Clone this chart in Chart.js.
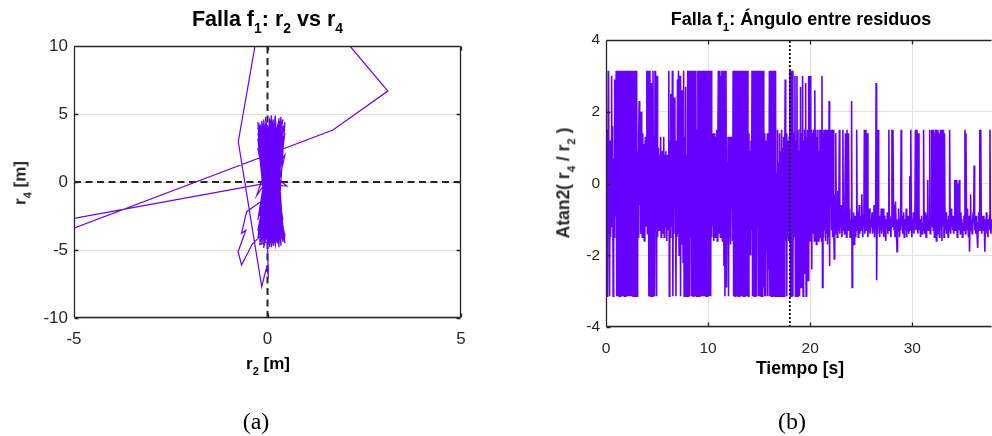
<!DOCTYPE html>
<html>
<head>
<meta charset="utf-8">
<script src="https://cdn.jsdelivr.net/npm/chart.js@4/dist/chart.umd.min.js"></script>
<style>
html, body { margin: 0; padding: 0; background: #fff; overflow: hidden; }
#wrap { position: relative; width: 992px; height: 436px; }
canvas { position: absolute; top: 0; }
.lbl { position: absolute; font-family: "Liberation Sans", Arial, sans-serif; font-weight: bold; white-space: nowrap; line-height: 1; color: #262626; }
.lbl sub { font-size: 0.65em; vertical-align: -0.5em; line-height: 0; }
.tit { color: #000; transform: translateX(-50%); }
.rot { transform: translate(-50%, -50%) rotate(-90deg); }
.cap { position: absolute; font-family: "Liberation Serif", "Times New Roman", serif; font-size: 24px; line-height: 1; color: #000; transform: translateX(-50%); }
</style>
</head>
<body>
<div id="wrap">
  <canvas id="cA" width="496" height="436" style="left:0"></canvas>
  <canvas id="cB" width="496" height="436" style="left:496px"></canvas>

  <div class="lbl tit" style="left:267.5px; top:9px; font-size:21.5px">Falla f<sub>1</sub>: r<sub>2</sub> vs r<sub>4</sub></div>
  <div class="lbl tit" style="left:268px; top:355px; font-size:17px">r<sub>2</sub> [m]</div>
  <div class="lbl rot" style="left:20px; top:183px; font-size:17px">r<sub>4</sub> [m]</div>

  <div class="lbl tit" style="left:801px; top:10px; font-size:18px">Falla f<sub>1</sub>: Ángulo entre residuos</div>
  <div class="lbl tit" style="left:800px; top:360px; font-size:17.5px">Tiempo [s]</div>
  <div class="lbl rot" style="left:564px; top:183px; font-size:17.5px">Atan2( r<sub>4</sub> / r<sub>2</sub> )</div>

  <div class="cap" style="left:256px; top:409px">(a)</div>
  <div class="cap" style="left:792px; top:409px">(b)</div>
</div>

<script>
// ---- (a) trayectoria r2 vs r4, puntos [r2, r4] ----
const nubeA = [
  [0.1,3.8],[-0.1,-3.2],[0.3,4.2],[0.0,-4.1],[0.2,2.9],[-0.2,-2.5],[0.35,4.6],[0.05,-4.6],[-0.1,3.5],[0.25,-3.8],
  [0.1,4.8],[-0.05,-2.9],[0.3,3.1],[-0.15,-4.3],[0.2,4.4],[0.15,-4.7],[-0.2,2.2],[0.3,-3.4],[0.0,4.0],[0.2,-4.4],
  [-0.1,1.5],[0.35,-2.1],[0.05,4.5],[-0.2,-3.9],[0.25,3.6],[0.1,-4.8],[-0.05,4.2],[0.3,-3.0],[0.15,2.6],[-0.1,-4.5],
  [0.4,4.1],[0.0,-3.6],[-0.25,3.2],[0.2,-4.2],[0.1,4.7],[-0.15,-1.8],[0.35,3.9],[0.05,-4.0],[-0.1,4.4],[0.3,-4.6],
  [0.2,1.9],[-0.2,-3.3],[0.15,4.3],[0.25,-2.6],[-0.05,3.0],[0.1,-4.4],[0.35,4.8],[-0.15,-4.1],[0.0,2.4],[0.3,-3.7],
  [0.2,4.0],[-0.25,-2.8],[0.1,3.4],[0.25,-4.5],[-0.1,4.6],[0.05,-3.1],[0.4,2.8],[-0.05,-4.3],[0.15,3.7],[0.3,-4.0],
  [-0.2,4.1],[0.1,-2.2],[0.2,4.5],[-0.1,-4.7],[0.0,0.6]
];
const excursion = [
  [0.05,-0.2],[-0.19,-0.17],[-5.6,-2.99],[-5.6,-4.03],[1.69,3.82],[3.11,6.69],[2.13,10],[1.54,12],
  [-0.2,12],[-0.755,2.96],[-0.15,-7.7],[-0.03,-6.35],[0.02,-6.84],[0.0,-4.5]
];
const nubeB = [
  [0.35,3.3],[0.0,-3.5],[0.15,1.2],[-0.15,-4.0],[0.3,4.3],[0.05,-4.6],[-0.1,2.7],[0.25,-3.3],[0.1,4.9],[-0.2,-3.7],
  [0.3,3.5],[0.15,-4.2],[0.0,0.8],[0.5,-0.3],[0.05,-0.2],[-0.1,-4.4],[0.2,3.8],[0.35,-3.9],[-0.05,4.3],[0.1,-2.7],
  [0.25,4.0],[-0.15,-4.6],[0.2,2.1],[0.3,-4.3],[-0.1,3.9],[0.05,-3.8],[0.15,4.6],[-0.2,-2.4],[0.4,3.0],[0.1,-4.5],
  [-0.05,3.6],[0.25,-3.6],[0.0,4.2],[0.3,-4.8],[-0.15,2.9],[0.1,-1.0]
];
const zigzag = [
  [-0.25,-1.6],[-0.54,-2.18],[-0.67,-3.77],[-0.56,-3.55],[-0.76,-5.13],[-0.67,-6.1],[-0.4,-4.6],[-0.2,-4.0]
];
const nubeC = [
  [0.2,-3.0],[0.1,4.4],[-0.1,-4.2],[0.3,1.6],[0.15,-4.6],[-0.2,3.7],[0.05,-3.4],[0.35,4.2],[-0.05,-4.0],[0.2,3.2],
  [0.1,-1.5],[-0.1,4.0],[0.3,-4.1],[0.0,2.5],[0.2,-4.4],[-0.15,3.3],[0.25,-2.9],[0.1,4.5],[-0.2,-4.3],[0.15,3.9],
  [0.3,-3.5],[0.0,-0.6],[-0.1,4.1],[0.2,-4.7],[0.35,2.6],[0.05,-3.9],[-0.05,4.7],[0.25,-4.2],[0.1,3.0],[-0.15,-3.0],
  [0.2,4.3],[0.0,-4.5],[0.1,0.2]
];
const nubeD = [
  [-0.25,4.0],[0.45,-3.9],[-0.2,-4.6],[0.4,4.6],[-0.28,-1.0],[0.45,2.0],[-0.1,-4.85],[0.2,4.9],[0.4,-4.4],[-0.22,3.0],
  [0.1,-3.9],[0.45,3.6],[-0.25,-3.6],[0.3,4.7],[0.0,-4.7],[-0.15,4.5],[0.4,-2.8],[0.05,3.2],[-0.25,-4.2],[0.35,4.0],
  [0.15,-4.1],[-0.2,4.3],[0.45,-4.1],[0.0,3.7],[-0.1,-3.4],[0.3,4.5],[0.2,-4.6],[-0.25,2.5],[0.4,-3.2],[0.05,4.6],
  [-0.15,-4.5],[0.25,3.4],[0.35,-4.7],[-0.05,4.0],[0.15,-3.3],[-0.2,3.8],[0.45,-4.5],[0.1,4.2],[-0.1,-4.0],[0.3,2.2],
  [0.0,-4.3],[-0.25,4.4],[0.4,-3.6],[0.2,4.6],[-0.15,-3.8],[0.35,3.7],[0.05,-4.8],[-0.1,3.3],[0.25,-4.0],[0.45,4.4],
  [-0.2,-4.4],[0.1,3.9],[0.3,-4.5],[-0.05,4.8],[0.2,-3.7],[-0.25,3.6],[0.4,-4.2],[0.15,4.1],[-0.1,-4.6],[0.3,3.8],
  [0.0,-4.0],[0.35,4.3],[-0.2,-3.1],[0.1,4.7],[0.25,-4.4],[-0.15,4.2],[0.05,-4.2],[0.4,3.4],[-0.05,-3.7],[0.2,4.2]
];
const xTicksA = [-5, 0, 5];
const yTicksA = [-10, -5, 0, 5, 10];

// ---- (b) Atan2(r4/r2) en el tiempo, una muestra cada dt segundos ----
const dt = 0.05;
const atanAntes = [   // 0 - 18 s
  0.6,3.14,-3.14,1.5,-1.4,3.14,-0.8,-3.14,1.2,-1.5,0.4,3.0,-1.2,1.6,-3.14,0.7,-1.5,2.9,-0.9,1.1,
  3.14,-3.14,3.14,-3.14,0.8,3.14,-3.14,3.14,-3.14,-1.2,3.14,-3.14,3.14,-3.14,1.3,3.14,-3.14,3.14,-3.14,0.5,
  3.14,-3.14,3.14,-3.14,3.14,-3.14,-0.5,3.14,-3.14,3.14,-3.14,1.4,3.14,-3.14,3.14,-3.14,3.14,-2.9,3.14,-3.14,
  3.14,-3.14,0.9,-1.5,1.3,2.3,-0.6,1.2,-1.4,2.0,0.3,-1.5,1.4,-0.9,1.1,-1.6,0.5,1.3,-1.2,0.8,
  3.14,-1.4,1.2,3.14,-3.14,0.9,3.14,-3.14,-1.3,2.8,1.1,-3.14,3.14,-1.5,1.3,-3.14,3.14,-0.8,0.4,-3.14,
  3.0,-1.5,1.0,0.9,-1.3,0.8,-0.6,1.3,-1.5,0.9,0.2,-1.4,0.9,1.3,-1.5,0.8,-1.2,0.9,-0.4,-1.6,
  0.8,-1.3,0.5,3.14,-3.14,1.2,-1.5,2.5,0.6,-1.2,3.14,-3.14,1.0,-1.4,2.4,-0.6,1.2,-3.14,0.9,-1.5,
  2.9,-1.4,3.14,-2.0,1.3,3.0,-3.14,0.9,-1.7,2.6,1.1,-2.2,3.14,-3.14,1.3,-1.0,2.7,-3.14,0.8,-1.5,
  3.14,-3.14,1.2,3.14,-3.14,3.0,-1.5,3.14,-3.14,1.3,3.14,-3.14,0.7,3.14,-3.14,-1.2,3.14,-3.14,1.5,-1.4,
  3.14,-3.14,3.14,-3.14,1.2,3.14,-3.14,3.14,-3.14,-0.9,3.14,-3.14,3.14,-3.14,1.4,3.14,-3.14,3.14,-3.14,0.6,
  3.14,-3.14,3.14,-3.14,1.1,-3.14,3.14,-1.5,1.4,-1.2,0.6,-1.6,1.4,0.2,-1.5,1.3,-1.1,1.5,-1.6,0.9,
  3.14,-1.4,1.3,3.14,-1.5,3.0,0.8,3.14,-1.6,1.2,3.14,-2.3,3.14,-3.14,1.0,3.14,-2.9,0.6,-1.5,1.3,
  -3.14,1.3,-1.5,0.9,-1.7,1.3,-0.7,1.1,-1.6,3.14,-3.14,1.4,3.14,-3.14,1.2,3.14,-3.14,-0.5,3.14,-3.14,
  3.14,-3.14,1.4,3.14,-3.14,3.14,-3.14,0.9,3.14,-3.14,3.14,-3.14,-1.2,3.14,-3.14,1.4,-3.14,3.14,-1.6,-3.14,
  1.4,-1.5,0.9,-2.0,1.2,-1.3,3.14,-3.14,1.3,3.14,-3.14,3.14,-3.14,0.7,3.14,-3.14,3.14,-1.2,1.4,-3.14,
  3.14,-3.14,1.5,3.14,-3.14,3.14,-3.14,0.5,3.14,-2.9,1.4,-3.14,1.2,-3.14,0.8,-1.9,1.4,-3.14,1.1,-2.4,
  3.14,-3.14,0.1,3.14,-3.14,3.14,-3.14,-0.2,3.14,-3.14,1.2,-3.14,3.14,-3.14,0.3,-2.6,1.5,-3.14,0.6,-2.2,
  1.4,-3.14,0.9,-1.6,1.5,-3.14,1.0,-1.5,1.3,-3.14,0.6,2.9,-1.6,1.4,-3.14,1.2,-1.5,0.8,-1.6,1.3
];
const atanDespues = [ // 18 - 38 s
  3.14,-3.14,3.14,-3.14,1.5,3.14,-3.14,0.8,-1.5,1.4,3.0,-3.14,1.2,-1.6,3.0,-3.14,1.5,-1.4,0.9,-3.14,
  1.5,2.7,-2.9,1.4,-1.6,3.0,-3.14,1.2,-2.5,1.5,-1.5,2.8,-3.14,1.3,-1.4,1.5,-2.7,3.0,-1.6,1.4,
  3.0,-1.6,1.5,-2.4,1.4,-1.4,0.5,1.5,-1.6,2.6,-1.5,1.5,-1.7,1.3,-1.2,1.5,-1.6,0.9,-1.5,1.5,
  -1.4,1.5,-1.6,3.0,-2.9,1.4,-1.5,1.5,-1.3,0.7,-1.6,1.5,-1.4,1.2,-1.7,1.5,-1.5,2.3,-2.3,1.4,
  -0.6,1.5,-1.3,-0.4,-1.5,1.5,-0.9,-2.1,-0.3,-1.4,1.4,-1.1,-0.7,-1.5,-0.2,-1.3,-0.9,1.5,-1.4,-0.8,
  -1.2,-0.6,-1.5,-0.9,1.5,-1.3,-0.8,-1.4,-0.5,1.4,-1.2,-1.5,1.5,-0.9,-1.3,1.4,-1.1,-0.7,-1.5,-1.0,
  -1.2,2.3,-2.9,-1.0,-1.4,-0.8,-1.7,-1.1,-0.9,-1.5,-1.2,1.5,-1.3,-0.8,-1.5,-1.0,-0.6,-1.4,-1.2,-0.9,
  -1.3,-0.3,-1.1,-1.5,-0.9,-1.2,1.5,-1.4,-1.0,1.5,-1.3,-0.8,1.4,-1.5,-1.1,-1.3,-0.7,-1.4,-1.2,-1.0,
  -1.2,-0.8,-1.4,-1.1,-1.3,-0.6,-1.5,-1.0,-1.2,2.8,-2.7,-1.1,-1.4,1.5,-1.2,-0.9,-1.5,-1.0,-1.3,-0.7,
  -1.4,-1.0,-1.2,-0.7,-1.5,-1.1,-0.9,-1.3,-1.6,-1.0,-1.2,-0.8,-1.4,-1.1,1.5,-1.3,-0.9,-1.2,-1.5,-1.0,
  1.5,-1.2,1.5,-0.6,-1.3,-0.9,-1.5,-0.5,-1.1,-1.4,-1.9,-1.0,-1.3,-0.7,-1.2,-1.5,-1.0,-1.3,1.5,-1.2,
  -0.9,-1.4,-1.1,-0.8,-1.5,-1.2,-1.0,-1.3,-0.7,-1.5,-1.1,-1.2,-0.9,-1.4,-1.0,0.2,-1.3,1.5,-1.1,-1.5,
  -1.0,-1.3,-0.8,-1.4,-1.1,-0.9,1.5,-1.3,-1.0,1.5,-1.2,-1.4,1.4,-0.8,-1.3,-1.0,-1.5,-1.2,-0.9,-1.4,
  -1.1,-1.3,1.5,-1.0,-1.4,-0.8,-1.2,-1.5,-1.1,-0.9,0.1,-1.3,-1.0,-1.2,1.5,-1.4,-0.9,-1.2,1.5,-1.1,
  1.5,-1.3,1.5,-1.5,1.4,-1.2,1.5,-1.6,1.5,-1.0,1.5,-1.4,1.4,-1.5,-0.7,1.5,-1.3,1.5,-1.6,1.5,
  -1.2,1.5,-1.5,1.4,-1.1,-1.3,-0.8,-1.4,-1.0,-1.2,-1.5,-0.9,-1.3,1.5,-1.1,-1.4,-0.7,-1.2,-1.0,-1.3,
  -0.9,-1.4,-1.1,0.1,-1.3,-1.0,0.1,-1.2,-1.5,0.0,-0.9,-1.3,0.1,-1.1,-1.4,-0.8,-1.2,-1.0,-1.5,-1.1,
  -1.3,-0.9,-1.2,1.5,-1.4,1.4,-1.0,-1.3,-0.7,-1.2,-1.5,-0.9,-1.9,-1.1,-0.3,-1.3,-1.0,-1.4,-1.2,-0.8,
  -1.1,0.5,-1.3,-1.0,-1.4,-0.9,-1.2,-1.5,-1.8,-1.1,-0.8,-1.3,1.5,-1.0,1.5,-1.2,-1.4,-0.9,-1.1,-1.3,
  -0.9,-1.2,-1.9,-1.0,-1.4,-0.8,-1.2,-1.1,-1.5,-1.0,-1.3,-0.9,1.5,-1.2,-1.4,-1.0,-1.2,-0.8,-1.3,-1.1
];
const tFalla = 18;
const xTicksB = [0, 10, 20, 30];
const yTicksB = [-4, -2, 0, 2, 4];

const morado = '#6600ff';
const ejeColor = '#262626';
const gridColor = '#e3e3e3';
const fuente = '"Liberation Sans", Arial, sans-serif';

// marco tipo MATLAB: caja y marcas hacia adentro
const marco = {
  id: 'marco',
  afterDraw(chart, args, o) {
    const { ctx, chartArea: a, scales: { x, y } } = chart;
    const L = Math.round(a.left) + 0.5, R = Math.round(a.right) - 0.5;
    const T = Math.round(a.top) + 0.5, B = Math.round(a.bottom) - 0.5;
    ctx.save();
    ctx.strokeStyle = ejeColor;
    ctx.lineWidth = 1.3;
    ctx.beginPath();
    ctx.moveTo(L, T); ctx.lineTo(L, B);
    ctx.moveTo(L, T); ctx.lineTo(R, T);
    ctx.moveTo(L, B); ctx.lineTo(R, B);
    if (o.derecha) { ctx.moveTo(R, T); ctx.lineTo(R, B); }
    const tk = o.marca || 4;
    x.ticks.forEach(t => {
      const px = Math.round(x.getPixelForValue(t.value)) + 0.5;
      ctx.moveTo(px, T); ctx.lineTo(px, T + tk);
      ctx.moveTo(px, B); ctx.lineTo(px, B - tk);
    });
    y.ticks.forEach(t => {
      const py = Math.round(y.getPixelForValue(t.value)) + 0.5;
      ctx.moveTo(L, py); ctx.lineTo(L + tk, py);
      if (o.derecha) { ctx.moveTo(R, py); ctx.lineTo(R - tk, py); }
    });
    ctx.stroke();
    ctx.restore();
  }
};

const aPuntos = arr => arr.map(p => ({ x: p[0], y: p[1] }));
const trayectoria = [].concat(nubeA, excursion, nubeB, zigzag, nubeC, nubeD);

new Chart(document.getElementById('cA'), {
  type: 'scatter',
  data: {
    datasets: [
      { data: aPuntos(trayectoria), showLine: true, borderColor: morado, borderWidth: 1.2,
        pointRadius: 0, tension: 0, order: 0 },
      { data: [{ x: -5, y: 0 }, { x: 5, y: 0 }], showLine: true, borderColor: ejeColor, borderWidth: 2,
        borderDash: [7, 4.5], pointRadius: 0, order: 1 },
      { data: [{ x: 0, y: -10 }, { x: 0, y: 10 }], showLine: true, borderColor: ejeColor, borderWidth: 2,
        borderDash: [7, 4.5], pointRadius: 0, order: 1 }
    ]
  },
  options: {
    responsive: false, animation: false, devicePixelRatio: 1,
    layout: { padding: { left: 0, top: 46, right: 35, bottom: 0 } },
    plugins: { legend: { display: false }, tooltip: { enabled: false }, marco: { derecha: true, marca: 4 } },
    scales: {
      x: {
        type: 'linear', min: -5, max: 5,
        afterBuildTicks: s => { s.ticks = xTicksA.map(v => ({ value: v })); },
        afterFit: s => { s.height = 118; },
        grid: { display: false }, border: { display: false },
        ticks: { color: ejeColor, font: { family: fuente, size: 17 }, padding: 3, maxRotation: 0, callback: v => String(v) }
      },
      y: {
        min: -10, max: 10,
        afterBuildTicks: s => { s.ticks = yTicksA.map(v => ({ value: v })); },
        afterFit: s => { s.width = 74; },
        grid: { color: gridColor, drawTicks: false }, border: { display: false },
        ticks: { color: ejeColor, font: { family: fuente, size: 17 }, padding: 6, callback: v => String(v) }
      }
    }
  },
  plugins: [marco]
});

const serieAtan = atanAntes.concat(atanDespues).map((v, i) => ({ x: i * dt, y: v }));

new Chart(document.getElementById('cB'), {
  type: 'scatter',
  data: {
    datasets: [
      { data: [{ x: tFalla, y: -4 }, { x: tFalla, y: 4 }], showLine: true, borderColor: '#000', borderWidth: 1.8,
        borderDash: [2, 2], pointRadius: 0, order: 0 },
      { data: serieAtan, showLine: true, borderColor: morado, borderWidth: 1.6,
        pointRadius: 0, tension: 0, order: 1 }
    ]
  },
  options: {
    responsive: false, animation: false, devicePixelRatio: 1,
    layout: { padding: { left: 0, top: 40, right: 0, bottom: 0 } },
    plugins: { legend: { display: false }, tooltip: { enabled: false }, marco: { derecha: false, marca: 4 } },
    scales: {
      x: {
        type: 'linear', min: 0, max: 37.8,
        afterBuildTicks: s => { s.ticks = xTicksB.map(v => ({ value: v })); },
        afterFit: s => { s.height = 109; },
        grid: { color: gridColor, drawTicks: false }, border: { display: false },
        ticks: { color: ejeColor, font: { family: fuente, size: 15.5 }, padding: 12, maxRotation: 0, callback: v => String(v) }
      },
      y: {
        min: -4, max: 4,
        afterBuildTicks: s => { s.ticks = yTicksB.map(v => ({ value: v })); },
        afterFit: s => { s.width = 110; },
        grid: { color: gridColor, drawTicks: false }, border: { display: false },
        ticks: { color: ejeColor, font: { family: fuente, size: 15.5 }, padding: 6, callback: v => String(v) }
      }
    }
  },
  plugins: [marco]
});
</script>
</body>
</html>
